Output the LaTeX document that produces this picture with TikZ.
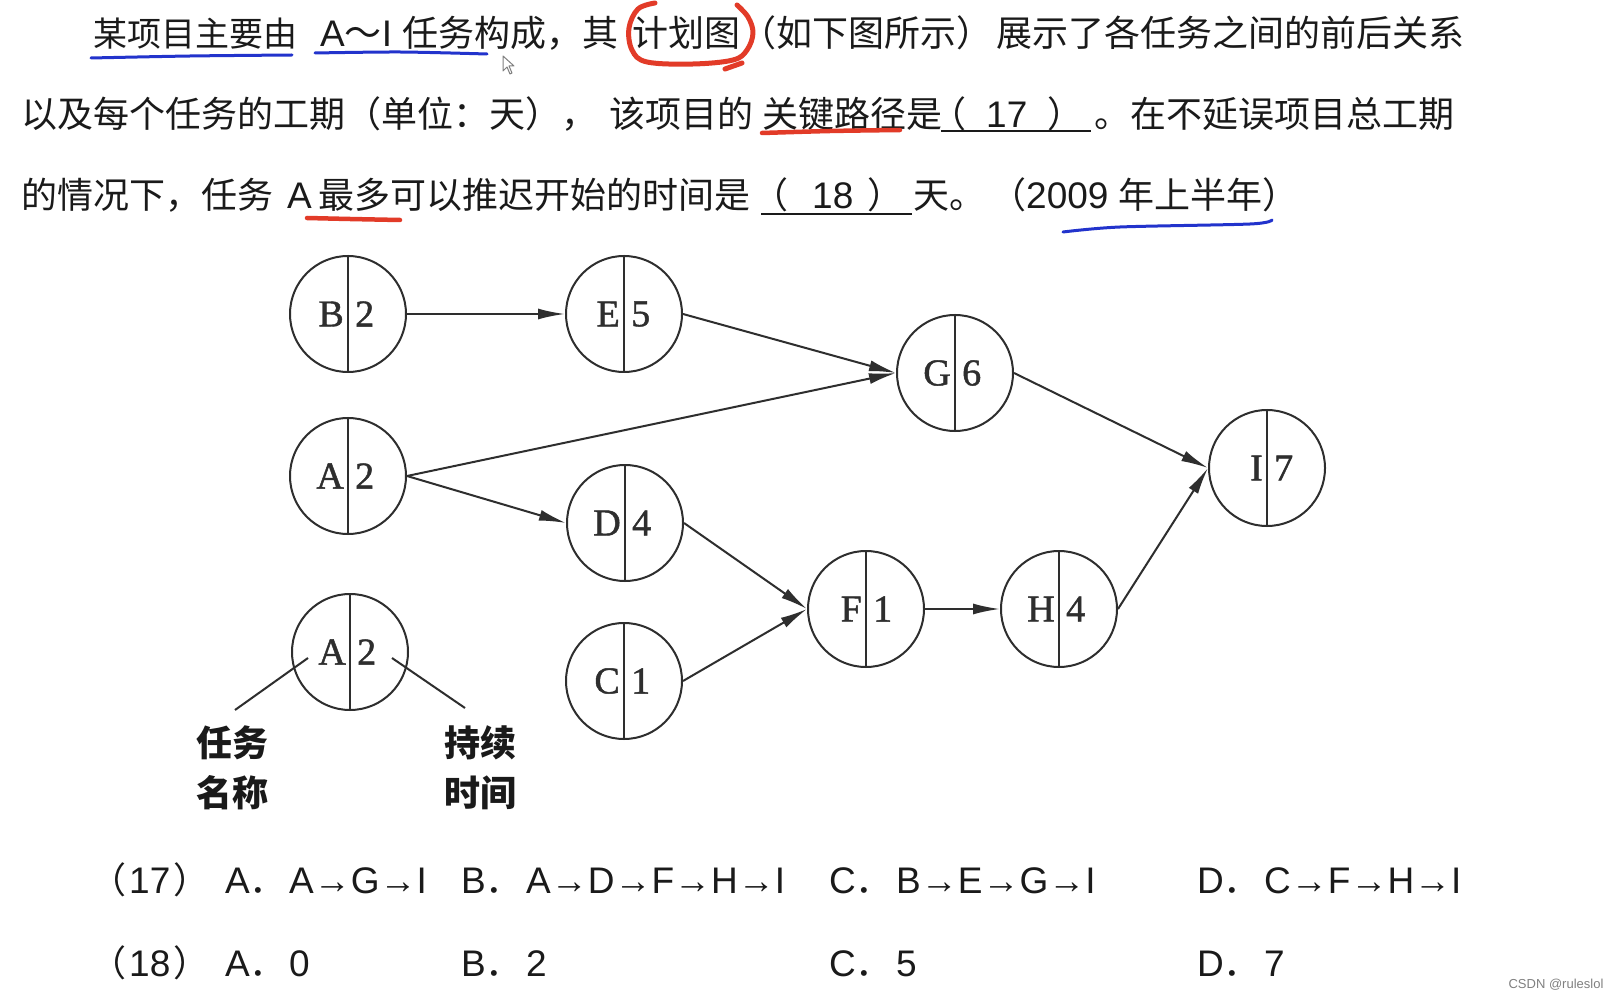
\documentclass[tikz,border=0pt]{standalone}
\usepackage{fontspec}
\setmainfont{Liberation Sans}
\newfontfamily\cjk{Noto Sans CJK SC}
\newfontfamily\tser[FakeBold=1.2]{Liberation Serif}
\usetikzlibrary{arrows.meta}
\definecolor{ink}{HTML}{2E2E2E}
\definecolor{redpen}{HTML}{E23B28}
\definecolor{bluepen}{HTML}{2233CC}
\definecolor{txt}{HTML}{1A1A1A}
\newcommand\tasknode[5]{%
  \node[task] (#1) at (#2,#3) {};
  \draw[ink,line width=2pt] (#1.north) -- (#1.south);
  \node[lett,anchor=east] (#1l) at ([xshift=-4pt]#1.center) {#4};
  \node[lett,anchor=west] (#1d) at ([xshift=7pt]#1.center) {#5};
}
\newcommand\latnum[1]{{\fontspec{Liberation Sans}\fontsize{37}{37}\selectfont #1}}
\begin{document}
\begin{tikzpicture}[x=1pt,y=-1pt,
  task/.style={circle,draw=ink,line width=2pt,minimum size=116pt,inner sep=0pt},
  lett/.style={font=\tser\fontsize{38}{38}\selectfont,text=ink,inner sep=0pt},
  arr/.style={draw=ink,line width=2pt,-{Latex[length=27pt,width=11pt]}},
  cj/.style={font=\cjk\fontsize{36}{36}\selectfont,text=txt,inner sep=0pt,anchor=base west},
  la/.style={font=\fontsize{37}{37}\selectfont,text=txt,inner sep=0pt,anchor=base west},
  leg/.style={font=\cjk\bfseries\fontsize{36}{50}\selectfont,text=txt,inner sep=0pt,align=center},
  blank/.style={draw=txt,line width=2pt},
  redline/.style={draw=redpen,line width=4.5pt,line cap=round,line join=round},
  blueline/.style={draw=bluepen,line width=3pt,line cap=round,line join=round}]
\fill[white] (0,0) rectangle (1618,1000);
\useasboundingbox (0,0) rectangle (1618,1000);

% ---------- paragraph ----------
\node[cj,font=\cjk\fontsize{34}{34}\selectfont] (p1a) at (93,47) {某项目主要由};
\node[la] (p1b) at (320,47) {A{\cjk ～}I};
\node[cj] (p1c) at (402,47) {任务构成，其};
\node[cj] (p1d) at (632,47) {计划图};
\node[cj] (p1e) at (740,47) {（如下图所示）};
\node[cj] (p1f) at (996,47) {展示了各任务之间的前后关系};

\node[cj] (p2a) at (21,128) {以及每个任务的工期（单位：天），};
\node[cj] (p2b) at (609,128) {该项目的};
\node[cj] (p2c) at (762,128) {关键路径是};
\node[cj] (p2d) at (930,128) {（\hspace{20pt}\latnum{17}\hspace{20pt}）};
\node[cj] (p2e) at (1094,128) {。在不延误项目总工期};
\draw[blank] (941,131) -- (1091,131);

\node[cj] (p3a) at (21,209) {的情况下，任务};
\node[la] (p3b) at (287,209) {A};
\node[cj] (p3c) at (318,209) {最多可以推迟开始的时间是};
\node[cj] (p3d) at (752,209) {（\hspace{24pt}\latnum{18}\hspace{14pt}）};
\node[cj] (p3e) at (913,209) {天。};
\node[cj] (p3f) at (990,209) {（\latnum{2009 }年上半年）};
\draw[blank] (761,214) -- (912,214);

% ---------- pen marks ----------
\draw[redline,line width=5pt] plot[smooth,tension=0.6] coordinates {(655,3) (638,9) (629,28) (632,50) (647,62) (693,64) (733,60) (747,50) (753,33) (748,17) (737,5)};
\draw[redline,line width=5pt] (725,69) -- (742,63);
\draw[redline] plot[smooth] coordinates {(762,133) (830,131) (900,130)};
\draw[redline] plot[smooth] coordinates {(307,218) (350,219) (400,220)};
\draw[blueline] plot[smooth] coordinates {(91,58) (190,56) (292,55)};
\draw[blueline] plot[smooth] coordinates {(315,53) (400,52) (487,54)};
\draw[blueline] plot[smooth] coordinates {(1063,232) (1120,227) (1250,224) (1272,220)};
% cursor
\draw[gray,line width=1pt,fill=white,line join=round] (503,56) -- (503,71) -- (507,67) -- (510,74) -- (512,73) -- (509,66) -- (514,66) -- cycle;

% ---------- network ----------
\tasknode{B}{348}{314}{B}{2}
\tasknode{E}{624}{314}{E}{5}
\tasknode{A}{348}{476}{A}{2}
\tasknode{D}{625}{523}{D}{4}
\tasknode{G}{955}{373}{G}{6}
\tasknode{I}{1267}{468}{I}{7}
\tasknode{F}{866}{609}{F}{1}
\tasknode{H}{1059}{609}{H}{4}
\tasknode{C}{624}{681}{C}{1}

\draw[arr] (B.east) -- (E.west);
\draw[arr] (E.east) -- (G.west);
\draw[arr] (A.east) -- (G.west);
\draw[arr] (A.east) -- (D.west);
\draw[arr] (D.east) -- (F.west);
\draw[arr] (C.east) -- (F.west);
\draw[arr] (F.east) -- (H.west);
\draw[arr] (G.east) -- (I.west);
\draw[arr] (H.east) -- (I.west);

% legend
\tasknode{L}{350}{652}{A}{2}
\coordinate (Lin) at (308,658);
\coordinate (Lout) at (235,710);
\coordinate (Rin) at (392,658);
\coordinate (Rout) at (465,708);
\draw[ink,line width=2pt] (Lin) -- (Lout);
\draw[ink,line width=2pt] (Rin) -- (Rout);
\node[leg] (legname) at (232,768) {任务\\名称};
\node[leg] (legtime) at (480,768) {持续\\时间};

% ---------- options ----------
\node[cj] (q17) at (90,893) {（\hspace{3pt}\latnum{17}\hspace{3pt}）};
\node[la] (q17a) at (225,893) {A{\cjk ．}};
\node[la] (q17at) at (289,893) {A→G→I};
\node[la] (q17b) at (461,893) {B{\cjk ．}};
\node[la] (q17bt) at (526,893) {A→D→F→H→I};
\node[la] (q17c) at (829,893) {C{\cjk ．}};
\node[la] (q17ct) at (896,893) {B→E→G→I};
\node[la] (q17d) at (1197,893) {D{\cjk ．}};
\node[la] (q17dt) at (1264,893) {C→F→H→I};

\node[cj] (q18) at (90,976) {（\hspace{3pt}\latnum{18}\hspace{3pt}）};
\node[la] (q18a) at (225,976) {A{\cjk ．}};
\node[la] (q18at) at (289,976) {0};
\node[la] (q18b) at (461,976) {B{\cjk ．}};
\node[la] (q18bt) at (526,976) {2};
\node[la] (q18c) at (829,976) {C{\cjk ．}};
\node[la] (q18ct) at (896,976) {5};
\node[la] (q18d) at (1197,976) {D{\cjk ．}};
\node[la] (q18dt) at (1264,976) {7};

\node[font=\fontsize{13}{13}\selectfont,text=gray,inner sep=0pt] (wm) at (1556,985) {CSDN @ruleslol};
\end{tikzpicture}
\end{document}
